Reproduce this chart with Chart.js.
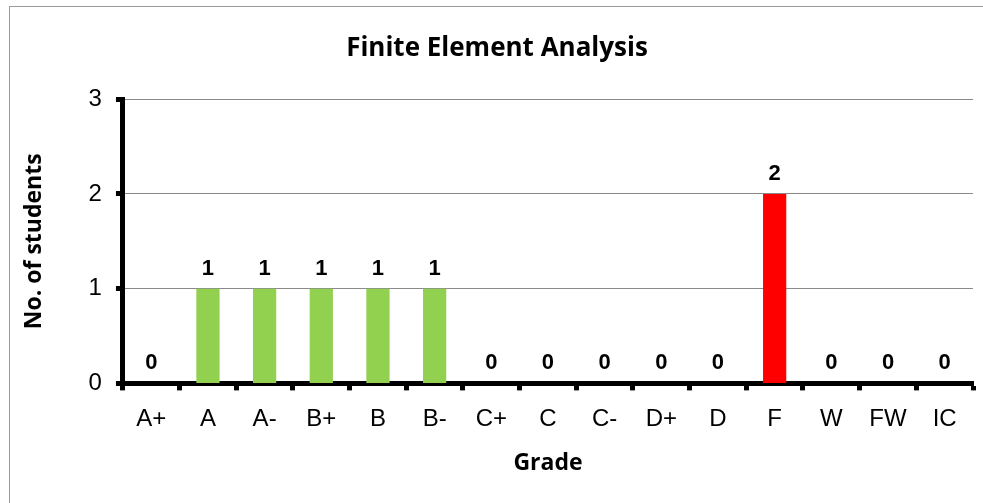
<!DOCTYPE html>
<html>
<head>
<meta charset="utf-8">
<script src="https://cdn.jsdelivr.net/npm/chart.js@4"></script>
<style>
  html, body { margin: 0; padding: 0; background: #fff; }
  #wrap { position: relative; width: 983px; height: 503px; }
</style>
</head>
<body>
<div id="wrap"><canvas id="gradeChart"></canvas></div>
<script>
// grades and student counts
const grades = ['A+', 'A', 'A-', 'B+', 'B', 'B-', 'C+', 'C', 'C-', 'D+', 'D', 'F', 'W', 'FW', 'IC'];
const students = [0, 1, 1, 1, 1, 1, 0, 0, 0, 0, 0, 2, 0, 0, 0];
const yTicks = [0, 1, 2, 3];

const barColors = grades.map(g => g === 'F' ? '#FF0000' : '#92D050');

// outer frame like the spreadsheet chart box
const framePlugin = {
    id: 'frame',
    beforeDraw(chart) {
        const ctx = chart.ctx;
        ctx.save();
        ctx.fillStyle = '#fff';
        ctx.fillRect(0, 0, chart.width, chart.height);
        ctx.strokeStyle = '#9a9a9a';
        ctx.lineWidth = 1;
        ctx.strokeRect(9.5, 6.5, 1200, 800);
        ctx.restore();
    }
};

// value labels over the bars
const valueLabels = {
    id: 'valueLabels',
    afterDatasetsDraw(chart) {
        const ctx = chart.ctx;
        const meta = chart.getDatasetMeta(0);
        ctx.save();
        ctx.font = 'bold 22px "Liberation Sans", Arial, sans-serif';
        ctx.fillStyle = '#000';
        ctx.textAlign = 'center';
        ctx.textBaseline = 'alphabetic';
        meta.data.forEach((bar, i) => {
            ctx.fillText(String(students[i]), bar.x, bar.y - 14);
        });
        ctx.restore();
    }
};

const canvas = document.getElementById('gradeChart');
canvas.width = canvas.parentNode.clientWidth;
canvas.height = canvas.parentNode.clientHeight;

new Chart(canvas, {
    type: 'bar',
    data: {
        labels: grades,
        datasets: [{
            label: 'No. of students',
            data: students,
            backgroundColor: barColors,
            borderWidth: 0,
            barPercentage: 0.41,
            categoryPercentage: 1
        }]
    },
    options: {
        responsive: false,
        animation: false,
        layout: {
            padding: { left: 21, right: 10, top: 33, bottom: 26 }
        },
        plugins: {
            legend: { display: false },
            tooltip: { enabled: false },
            title: {
                display: true,
                text: 'Finite Element Analysis',
                color: '#000',
                font: { family: '"Open Sans", Calibri, sans-serif', size: 26, weight: 'bold' },
                padding: { top: 0, bottom: 35 }
            }
        },
        scales: {
            x: {
                grid: {
                    display: true,
                    drawOnChartArea: false,
                    offset: true,
                    tickColor: '#000',
                    tickWidth: 5,
                    tickLength: 7
                },
                border: { color: '#000', width: 5 },
                ticks: {
                    color: '#000',
                    padding: 17,
                    font: { family: '"Liberation Sans", Arial, sans-serif', size: 24, lineHeight: 1 }
                },
                title: {
                    display: true,
                    text: 'Grade',
                    color: '#000',
                    font: { family: '"Open Sans", Calibri, sans-serif', size: 23, weight: 'bold' },
                    padding: { top: 1, bottom: 0 }
                }
            },
            y: {
                min: yTicks[0],
                max: yTicks[yTicks.length - 1],
                afterBuildTicks(axis) {
                    axis.ticks = yTicks.map(v => ({ value: v }));
                },
                grid: {
                    color: '#8a8a8a',
                    lineWidth: 1,
                    tickColor: '#000',
                    tickWidth: 5,
                    tickLength: 7
                },
                border: { color: '#000', width: 5 },
                ticks: {
                    color: '#000',
                    padding: 14,
                    font: { family: '"Liberation Sans", Arial, sans-serif', size: 24 }
                },
                title: {
                    display: true,
                    text: 'No. of students',
                    color: '#000',
                    font: { family: '"Open Sans", Calibri, sans-serif', size: 23, weight: 'bold' },
                    padding: { top: 0, bottom: 26 }
                }
            }
        }
    },
    plugins: [framePlugin, valueLabels]
});
</script>
</body>
</html>
